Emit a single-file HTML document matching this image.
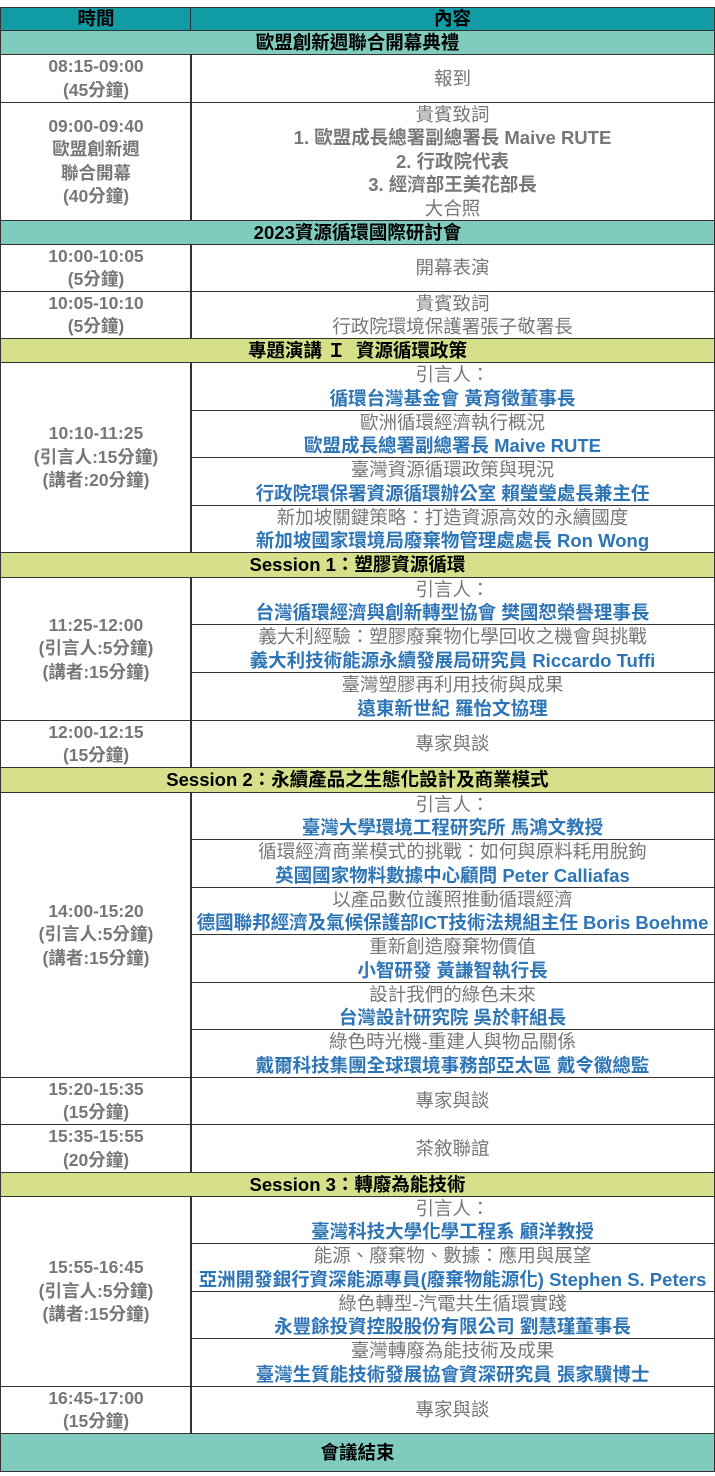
<!DOCTYPE html>
<html><head><meta charset="utf-8"><style>
body{margin:0;width:715px;height:1476px;background:#fff;position:relative;overflow:hidden;font-family:"Liberation Sans","Noto Sans CJK TC",sans-serif;}
.c{position:absolute;box-sizing:border-box;border:1.5px solid #333;display:flex;flex-direction:column;align-items:center;justify-content:center;text-align:center;font-size:18.5px;line-height:23.5px;white-space:nowrap;color:#777;overflow:visible;}
.l{left:0;width:192px;font-weight:bold;font-size:17.5px;}
.r{left:190px;width:525px;}
.full{left:0;width:715px;font-weight:bold;color:#000;}
.t{background:#7fcbbe;}
.o{background:#d6e08a;}
.b{color:#2e75b6;font-weight:bold;}
</style></head><body>
<div class="c l" style="top:7px;height:24px;background:#109ba5;color:#000;font-size:18.5px;">時間</div>
<div class="c r" style="top:7px;height:24px;background:#109ba5;color:#000;font-weight:bold;">內容</div>
<div class="c full t" style="top:30px;height:25px;">歐盟創新週聯合開幕典禮</div>

<div class="c l" style="top:54px;height:49px;"><div>08:15-09:00</div><div>(45分鐘)</div></div>
<div class="c r" style="top:54px;height:49px;">報到</div>

<div class="c l" style="top:102px;height:119px;"><div>09:00-09:40</div><div>歐盟創新週</div><div>聯合開幕</div><div>(40分鐘)</div></div>
<div class="c r" style="top:102px;height:119px;"><div>貴賓致詞</div><div><b>1. 歐盟成長總署副總署長 Maive RUTE</b></div><div><b>2. 行政院代表</b></div><div><b>3. 經濟部王美花部長</b></div><div>大合照</div></div>

<div class="c full t" style="top:220px;height:25px;">2023資源循環國際研討會</div>

<div class="c l" style="top:244px;height:48px;"><div>10:00-10:05</div><div>(5分鐘)</div></div>
<div class="c r" style="top:244px;height:48px;">開幕表演</div>
<div class="c l" style="top:291px;height:48px;"><div>10:05-10:10</div><div>(5分鐘)</div></div>
<div class="c r" style="top:291px;height:48px;"><div>貴賓致詞</div><div>行政院環境保護署張子敬署長</div></div>

<div class="c full o" style="top:338px;height:25px;">專題演講 Ｉ&nbsp; 資源循環政策</div>

<div class="c l" style="top:362px;height:191px;"><div>10:10-11:25</div><div>(引言人:15分鐘)</div><div>(講者:20分鐘)</div></div>
<div class="c r" style="top:362px;height:49px;"><div>引言人：</div><div class="b">循環台灣基金會 黃育徵董事長</div></div>
<div class="c r" style="top:410px;height:48px;"><div>歐洲循環經濟執行概況</div><div class="b">歐盟成長總署副總署長 Maive RUTE</div></div>
<div class="c r" style="top:457px;height:49px;"><div>臺灣資源循環政策與現況</div><div class="b">行政院環保署資源循環辦公室 賴瑩瑩處長兼主任</div></div>
<div class="c r" style="top:505px;height:48px;"><div>新加坡關鍵策略：打造資源高效的永續國度</div><div class="b">新加坡國家環境局廢棄物管理處處長 Ron Wong</div></div>

<div class="c full o" style="top:552px;height:26px;">Session 1：塑膠資源循環</div>

<div class="c l" style="top:577px;height:144px;"><div>11:25-12:00</div><div>(引言人:5分鐘)</div><div>(講者:15分鐘)</div></div>
<div class="c r" style="top:577px;height:48px;"><div>引言人：</div><div class="b">台灣循環經濟與創新轉型協會 樊國恕榮譽理事長</div></div>
<div class="c r" style="top:624px;height:49px;"><div>義大利經驗：塑膠廢棄物化學回收之機會與挑戰</div><div class="b">義大利技術能源永續發展局研究員 Riccardo Tuffi</div></div>
<div class="c r" style="top:672px;height:49px;"><div>臺灣塑膠再利用技術與成果</div><div class="b">遠東新世紀 羅怡文協理</div></div>

<div class="c l" style="top:720px;height:48px;"><div>12:00-12:15</div><div>(15分鐘)</div></div>
<div class="c r" style="top:720px;height:48px;">專家與談</div>

<div class="c full o" style="top:767px;height:26px;">Session 2：永續產品之生態化設計及商業模式</div>

<div class="c l" style="top:792px;height:286px;"><div>14:00-15:20</div><div>(引言人:5分鐘)</div><div>(講者:15分鐘)</div></div>
<div class="c r" style="top:792px;height:48px;"><div>引言人：</div><div class="b">臺灣大學環境工程研究所 馬鴻文教授</div></div>
<div class="c r" style="top:839px;height:49px;"><div>循環經濟商業模式的挑戰：如何與原料耗用脫鉤</div><div class="b">英國國家物料數據中心顧問 Peter Calliafas</div></div>
<div class="c r" style="top:887px;height:48px;"><div>以產品數位護照推動循環經濟</div><div class="b">德國聯邦經濟及氣候保護部ICT技術法規組主任 Boris Boehme</div></div>
<div class="c r" style="top:934px;height:49px;"><div>重新創造廢棄物價值</div><div class="b">小智研發 黃謙智執行長</div></div>
<div class="c r" style="top:982px;height:48px;"><div>設計我們的綠色未來</div><div class="b">台灣設計研究院 吳於軒組長</div></div>
<div class="c r" style="top:1029px;height:49px;"><div>綠色時光機-重建人與物品關係</div><div class="b">戴爾科技集團全球環境事務部亞太區 戴令徽總監</div></div>

<div class="c l" style="top:1077px;height:48px;"><div>15:20-15:35</div><div>(15分鐘)</div></div>
<div class="c r" style="top:1077px;height:48px;">專家與談</div>
<div class="c l" style="top:1124px;height:49px;"><div>15:35-15:55</div><div>(20分鐘)</div></div>
<div class="c r" style="top:1124px;height:49px;">茶敘聯誼</div>

<div class="c full o" style="top:1172px;height:25px;">Session 3：轉廢為能技術</div>

<div class="c l" style="top:1196px;height:191px;"><div>15:55-16:45</div><div>(引言人:5分鐘)</div><div>(講者:15分鐘)</div></div>
<div class="c r" style="top:1196px;height:48px;"><div>引言人：</div><div class="b">臺灣科技大學化學工程系 顧洋教授</div></div>
<div class="c r" style="top:1243px;height:49px;"><div>能源、廢棄物、數據：應用與展望</div><div class="b">亞洲開發銀行資深能源專員(廢棄物能源化) Stephen S. Peters</div></div>
<div class="c r" style="top:1291px;height:48px;"><div>綠色轉型-汽電共生循環實踐</div><div class="b">永豐餘投資控股股份有限公司 劉慧瑾董事長</div></div>
<div class="c r" style="top:1338px;height:49px;"><div>臺灣轉廢為能技術及成果</div><div class="b">臺灣生質能技術發展協會資深研究員 張家驥博士</div></div>

<div class="c l" style="top:1386px;height:48px;"><div>16:45-17:00</div><div>(15分鐘)</div></div>
<div class="c r" style="top:1386px;height:48px;">專家與談</div>

<div class="c full t" style="top:1433px;height:39px;">會議結束</div>
</body></html>
